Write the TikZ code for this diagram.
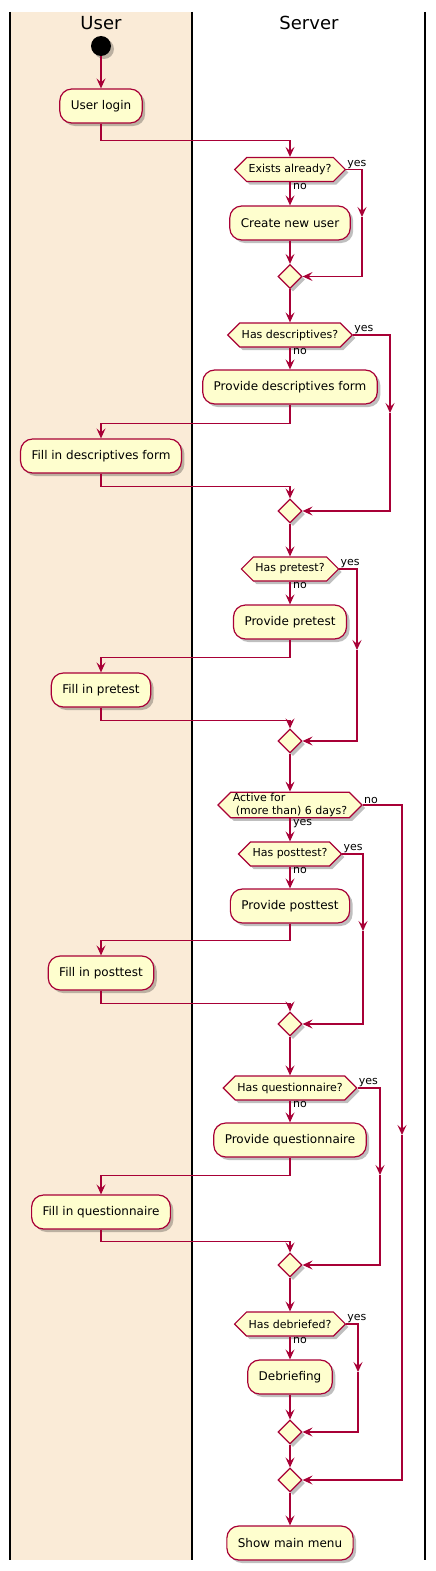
\documentclass[tikz,border=0pt]{standalone}
\usepackage{fontspec}
\setmainfont{DejaVu Sans}
\usepackage{tikz}
\usetikzlibrary{arrows.meta,shapes,shadows,positioning}
\definecolor{laneback}{RGB}{250,235,215}
\definecolor{actfill}{RGB}{254,254,206}
\definecolor{actline}{RGB}{168,0,54}

\begin{document}
\begin{tikzpicture}[x=1pt,y=-1pt]
\tikzset{shade/.style = {drop shadow={shadow xshift=3pt,shadow yshift=-3pt,fill=black,opacity=.25}},
act/.style = {draw=actline,fill=actfill,line width=1.2pt,rounded corners=12pt,minimum height=34pt,
  inner xsep=11pt,font=\fontsize{12}{14}\selectfont,shade},
test/.style = {draw=actline,fill=actfill,line width=1.2pt,signal,signal to=east and west,
  minimum height=24pt,inner xsep=2pt,inner ysep=1pt,font=\fontsize{11}{13}\selectfont,shade},
merge/.style = {draw=actline,fill=actfill,line width=1.2pt,diamond,minimum width=24pt,
  minimum height=24pt,inner sep=0pt,shade},
flow/.style = {draw=actline,line width=1.2pt,-{Stealth[length=10pt,width=9pt,inset=4pt]}},
lbl/.style = {font=\fontsize{11}{13}\selectfont,inner sep=1pt}}
\fill[white] (0,0) rectangle (436,1571);
\useasboundingbox (0,0) rectangle (436,1571);
%swimlanes
\fill[laneback] (10,12) rectangle (192,1560);
\draw[line width=1.5pt] (10,12) -- (10,1560); \draw[line width=1.5pt] (192,12) -- (192,1560);
\draw[line width=1.5pt] (425,12) -- (425,1560);
\node[font=\fontsize{18}{20}\selectfont] (usertitle) at (101,23) {User};
\node[font=\fontsize{18}{20}\selectfont] (servertitle) at (309,23) {Server};
%start and login
\node[circle,fill=black,minimum size=20pt,inner sep=0pt,shade] (start) at (101,46) {};
\node[act] (login) at (101,106) {User login};
\draw[flow] (start) -- (login);
%user exists?
\node[test] (exists) at (290,169.5) {Exists already?};
\node[act] (newuser) at (290,223) {Create new user};
\node[merge] (m1) at (290,276.5) {};
\coordinate (yes1) at (362,217);
\draw[flow] (login.south) -- ++(0,17) -| (exists.north);
\draw[flow] (exists.south) -- (newuser.north); \draw[flow] (newuser.south) -- (m1.north);
\draw[flow] (exists.east) -| (yes1); \draw[flow] (yes1) |- (m1.east);
\node[lbl,anchor=south west] (exyes) at (exists.east) {yes};
\node[lbl,anchor=north west] (exno) at ([xshift=2pt]exists.south) {no};
%descriptives
\node[test] (hasdesc) at (290,335) {Has descriptives?};
\node[act] (provdesc) at (290,387) {Provide descriptives form};
\node[act] (filldesc) at (101,456) {Fill in descriptives form};
\node[merge] (m2) at (290,511) {};
\coordinate (yes2) at (390,413);
\draw[flow] (m1.south) -- (hasdesc.north);
\draw[flow] (hasdesc.south) -- (provdesc.north);
\draw[flow] (provdesc.south) -- ++(0,19) -| (filldesc.north);
\draw[flow] (filldesc.south) -- ++(0,13) -| (m2.north);
\draw[flow] (hasdesc.east) -| (yes2); \draw[flow] (yes2) |- (m2.east);
\node[lbl,anchor=south west] (descyes) at (hasdesc.east) {yes};
\node[lbl,anchor=north west] (descno) at ([xshift=2pt]hasdesc.south) {no};
%pretest
\node[test] (haspre) at (290,569) {Has pretest?};
\node[act] (provpre) at (290,622) {Provide pretest};
\node[act] (fillpre) at (101,690) {Fill in pretest};
\node[merge] (m3) at (290,741) {};
\coordinate (yes3) at (357,650);
\draw[flow] (m2.south) -- (haspre.north);
\draw[flow] (haspre.south) -- (provpre.north);
\draw[flow] (provpre.south) -- ++(0,18) -| (fillpre.north);
\draw[flow] (fillpre.south) -- ++(0,13) -| (m3.north);
\draw[flow] (haspre.east) -| (yes3); \draw[flow] (yes3) |- (m3.east);
\node[lbl,anchor=south west] (preyes) at (haspre.east) {yes};
\node[lbl,anchor=north west] (preno) at ([xshift=2pt]haspre.south) {no};
%active for 6 days?
\node[test,align=left] (active) at (290,805) {Active for\\\hspace*{3pt}(more than) 6 days?};
\coordinate (noact) at (402,1135);
\draw[flow] (m3.south) -- (active.north);
\node[lbl,anchor=south west] (actno) at (active.east) {no};
\node[lbl,anchor=north west] (actyes) at ([xshift=2pt]active.south) {yes};
%posttest
\node[test] (haspost) at (290,854) {Has posttest?};
\node[act] (provpost) at (290,906) {Provide posttest};
\node[act] (fillpost) at (101,973) {Fill in posttest};
\node[merge] (m4) at (290,1024) {};
\coordinate (yes4) at (363,931);
\draw[flow] (active.south) -- (haspost.north);
\draw[flow] (haspost.south) -- (provpost.north);
\draw[flow] (provpost.south) -- ++(0,17) -| (fillpost.north);
\draw[flow] (fillpost.south) -- ++(0,13) -| (m4.north);
\draw[flow] (haspost.east) -| (yes4); \draw[flow] (yes4) |- (m4.east);
\node[lbl,anchor=south west] (postyes) at (haspost.east) {yes};
\node[lbl,anchor=north west] (postno) at ([xshift=2pt]haspost.south) {no};
%questionnaire
\node[test] (hasquest) at (290,1088) {Has questionnaire?};
\node[act] (provquest) at (290,1140) {Provide questionnaire};
\node[act] (fillquest) at (101,1212) {Fill in questionnaire};
\node[merge] (m5) at (290,1265) {};
\coordinate (yes5) at (380,1175);
\draw[flow] (m4.south) -- (hasquest.north);
\draw[flow] (hasquest.south) -- (provquest.north);
\draw[flow] (provquest.south) -- ++(0,18) -| (fillquest.north);
\draw[flow] (fillquest.south) -- ++(0,12) -| (m5.north);
\draw[flow] (hasquest.east) -| (yes5); \draw[flow] (yes5) |- (m5.east);
\node[lbl,anchor=south west] (questyes) at (hasquest.east) {yes};
\node[lbl,anchor=north west] (questno) at ([xshift=2pt]hasquest.south) {no};
%debriefing
\node[test] (hasdebr) at (290,1324) {Has debriefed?};
\node[act] (debrief) at (290,1377) {Debriefing};
\node[merge] (m6) at (290,1432) {};
\coordinate (yes6) at (358,1372);
\draw[flow] (m5.south) -- (hasdebr.north);
\draw[flow] (hasdebr.south) -- (debrief.north); \draw[flow] (debrief.south) -- (m6.north);
\draw[flow] (hasdebr.east) -| (yes6); \draw[flow] (yes6) |- (m6.east);
\node[lbl,anchor=south west] (debryes) at (hasdebr.east) {yes};
\node[lbl,anchor=north west] (debrno) at ([xshift=2pt]hasdebr.south) {no};
%end
\node[merge] (m7) at (290,1480) {};
\node[act] (menu) at (290,1543) {Show main menu};
\draw[flow] (m6.south) -- (m7.north); \draw[flow] (m7.south) -- (menu.north);
\draw[flow] (active.east) -| (noact); \draw[flow] (noact) |- (m7.east);
\end{tikzpicture}
\end{document}
